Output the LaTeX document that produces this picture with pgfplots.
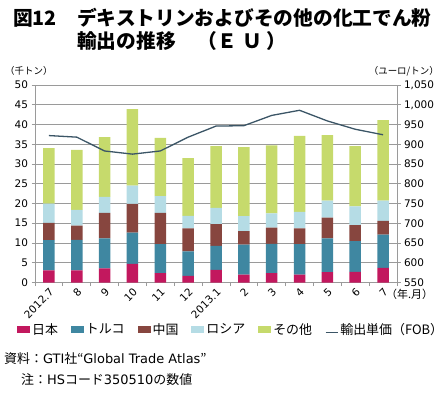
\documentclass[border=0pt]{standalone}
\usepackage{pgfplots}
\pgfplotsset{compat=1.18}
\usepackage{fontspec}
\setmainfont{Noto Sans CJK JP}
\newfontfamily\numfont{DejaVu Sans}
\definecolor{cJP}{HTML}{C2185E}
\definecolor{cTR}{HTML}{3F87A1}
\definecolor{cCN}{HTML}{87463F}
\definecolor{cRU}{HTML}{B5DCE5}
\definecolor{cOT}{HTML}{C6DA6C}
\definecolor{cLine}{HTML}{3B5566}
\definecolor{cGrid}{HTML}{9A9A9A}
\pgfplotsset{/pgf/number format/assume math mode=true,
  boxlegend/.style={legend image code/.code={\fill[##1] (0bp,-3.5bp) rectangle (13bp,3.5bp);}},
  linelegend/.style={legend image code/.code={\draw[##1] (0bp,-3bp) -- (12bp,-3bp);}},
}
\begin{document}
\begin{tikzpicture}
\useasboundingbox (0bp,0bp) rectangle (443bp,-396bp);
% title
\node[anchor=base west, inner sep=0pt, font=\bfseries\fontsize{19.8}{20}\selectfont] at (13bp,-25.6bp) {図12};
\node[anchor=base west, inner sep=0pt, font=\bfseries\fontsize{19.8}{20}\selectfont] at (77bp,-25.6bp) {デキストリンおよびその他の化工でん粉};
\node[anchor=base west, inner sep=0pt, font=\bfseries\fontsize{19.8}{20}\selectfont] at (77bp,-48.6bp) {輸出の推移\hspace{1.1em}（Ｅ\hspace{0.3em}Ｕ\hspace{0.2em}）};
% unit labels
\node[anchor=west, inner sep=0pt, font=\fontsize{9.5}{10}\selectfont] at (5bp,-71bp) {（千トン）};
\node[anchor=east, inner sep=0pt, font=\fontsize{9.5}{10}\selectfont] at (439bp,-71bp) {（ユーロ/トン）};
\node[anchor=west, inner sep=0pt, font=\fontsize{11}{11}\selectfont] at (386bp,-294bp) {（年.月）};
% source
\node[anchor=west, inner sep=0pt, font=\fontsize{13}{13}\selectfont] at (4bp,-359bp) {資料：{\numfont GTI}社“{\numfont Global Trade Atlas}”};
\node[anchor=west, inner sep=0pt, font=\fontsize{13}{13}\selectfont] at (21bp,-380bp) {注：{\numfont HS}コード{\numfont 350510}の数値};

\begin{axis}[at={(35bp,-282.5bp)}, anchor=south west, width=362bp, height=197.5bp, scale only axis,
  ybar stacked, bar width=11.5bp,
  xmin=-0.5, xmax=12.5, ymin=0, ymax=50, ytick={0,5,...,50},
  xtick={0,...,12}, xticklabels={2012.7,8,9,10,11,12,2013.1,2,3,4,5,6,7},
  major x tick style={draw=none},
  minor xtick={-0.5,0.5,...,12.5}, minor tick length=3.5bp,
  minor x tick style={cGrid, line width=0.8bp},
  x tick label style={rotate=45, anchor=north east, inner sep=1bp, font=\numfont\fontsize{10.5}{10.5}\selectfont},
  y tick label style={font=\numfont\fontsize{10.5}{10.5}\selectfont},
  axis x line*=bottom, axis y line*=left,
  axis line style={cGrid, line width=1bp, -},
  tick align=outside, major tick length=3.5bp,
  y tick style={cGrid, line width=0.8bp},
  ymajorgrids, grid style={cGrid, line width=0.7bp},
  legend style={at={(axis description cs:-0.05,-0.238)}, anchor=west, draw=none, fill=none,
    legend columns=6, font=\fontsize{13}{13}\selectfont, inner xsep=0pt,
    /tikz/every even column/.append style={column sep=11bp}},
  legend cell align=left,
  boxlegend,
]
\addplot[fill=cJP, draw=none] coordinates {(0,3.1)(1,3.1)(2,3.6)(3,4.7)(4,2.4)(5,1.7)(6,3.2)(7,2.0)(8,2.4)(9,2.0)(10,2.6)(11,2.7)(12,3.7)};
\addplot[fill=cTR, draw=none] coordinates {(0,7.6)(1,7.7)(2,7.6)(3,7.9)(4,7.3)(5,6.2)(6,6.1)(7,7.6)(8,7.4)(9,7.7)(10,8.6)(11,7.8)(12,8.4)};
\addplot[fill=cCN, draw=none] coordinates {(0,4.4)(1,3.6)(2,6.4)(3,7.3)(4,7.9)(5,5.8)(6,5.5)(7,3.4)(8,4.1)(9,4.0)(10,5.2)(11,4.0)(12,3.5)};
\addplot[fill=cRU, draw=none] coordinates {(0,4.9)(1,4.0)(2,4.1)(3,4.6)(4,4.3)(5,3.2)(6,4.1)(7,3.8)(8,3.6)(9,4.2)(10,4.3)(11,4.8)(12,5.1)};
\addplot[fill=cOT, draw=none] coordinates {(0,14.0)(1,15.2)(2,15.1)(3,19.4)(4,14.7)(5,14.6)(6,15.6)(7,17.5)(8,17.2)(9,19.2)(10,16.6)(11,15.2)(12,20.4)};
\addlegendimage{draw=cLine, line width=1.2bp, linelegend}
\legend{日本,トルコ,中国,ロシア,その他,輸出単価（FOB）}
\end{axis}

\begin{axis}[at={(35bp,-282.5bp)}, anchor=south west, width=362bp, height=197.5bp, scale only axis,
  xmin=-0.5, xmax=12.5, ymin=550, ymax=1050, ytick={550,600,...,1050},
  axis y line*=right, axis x line=none,
  axis line style={cGrid, line width=1bp, -},
  tick align=outside, major tick length=3.5bp,
  y tick style={cGrid, line width=0.8bp},
  y tick label style={font=\numfont\fontsize{10.5}{10.5}\selectfont, /pgf/number format/1000 sep={,}},
]
\addplot[cLine, line width=1.3bp, no marks] coordinates {(0,922)(1,918)(2,883)(3,875)(4,883)(5,918)(6,946)(7,947)(8,973)(9,986)(10,959)(11,938)(12,924)};
\end{axis}
\end{tikzpicture}
\end{document}
